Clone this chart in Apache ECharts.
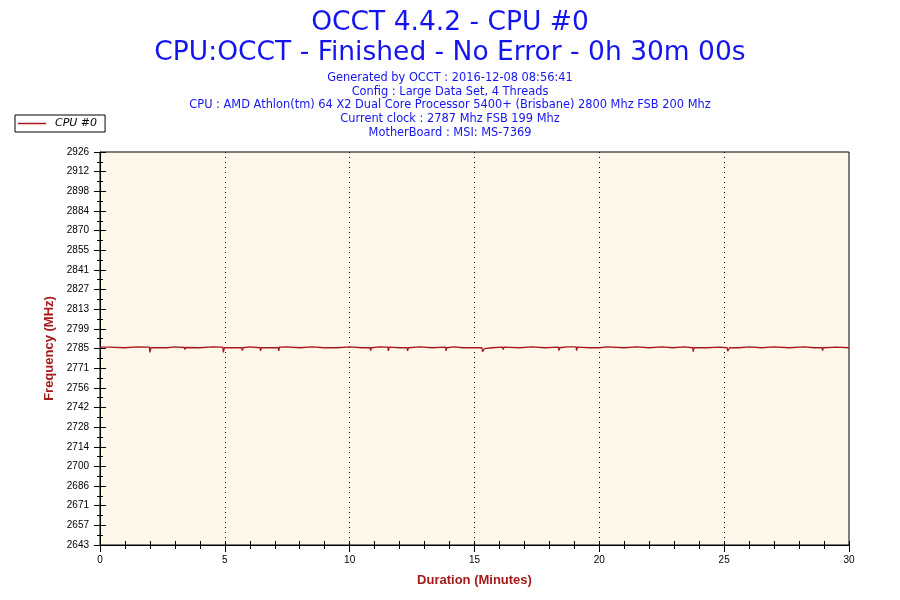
<!DOCTYPE html>
<html>
<head>
<meta charset="utf-8">
<title>OCCT 4.4.2 - CPU #0</title>
<script src="https://cdn.jsdelivr.net/npm/echarts@6/dist/echarts.min.js"></script>
<style>
  html, body { margin: 0; padding: 0; background: #fff; }
  #chart { width: 900px; height: 600px; }
</style>
</head>
<body>
<div id="chart"></div>
<script>
// sample times (minutes) and CPU #0 frequency (MHz)
const sampleMinutes = [
  0, 0.35, 0.37, 0.40, 1.0, 1.5, 1.98, 2.0, 2.04, 2.5,
  2.68, 2.7, 2.73, 3.0, 3.38, 3.4, 3.43, 4.0, 4.5, 4.92,
  4.94, 4.98, 5.5, 5.68, 5.7, 5.73, 6.0, 6.41, 6.43, 6.46,
  7.0, 7.14, 7.16, 7.19, 7.5, 8.0, 8.5, 8.98, 9.0, 9.03,
  9.5, 10.0, 10.5, 10.82, 10.84, 10.87, 11.2, 11.53, 11.55, 11.58,
  12.0, 12.30, 12.32, 12.35, 12.8, 13.3, 13.84, 13.86, 13.89, 14.2,
  14.53, 14.55, 14.58, 15.0, 15.30, 15.32, 15.36, 15.40, 15.44, 15.7,
  16.13, 16.15, 16.18, 16.8, 17.3, 17.8, 18.36, 18.38, 18.41, 18.7,
  19.07, 19.09, 19.12, 19.6, 20.0, 20.3, 21.0, 21.5, 22.0, 22.5,
  22.94, 22.96, 22.99, 23.4, 23.74, 23.76, 23.79, 24.3, 24.8, 25.12,
  25.14, 25.18, 25.22, 25.6, 26.0, 26.5, 27.0, 27.61, 27.63, 27.66,
  28.2, 28.6, 28.92, 28.94, 28.97, 29.5, 30
];
const cpu0Mhz = [
  2785.7, 2785.7, 2784.4, 2785.7, 2785.2, 2785.9, 2785.7, 2781.8, 2785.2, 2785.2,
  2785.2, 2783.8, 2785.2, 2785.9, 2785.4, 2783.9, 2785.4, 2785.2, 2785.9, 2785.7,
  2781.8, 2785.2, 2785.2, 2785.2, 2783.2, 2785.2, 2785.9, 2785.2, 2782.9, 2785.2,
  2785.2, 2785.2, 2782.9, 2785.7, 2785.9, 2785.2, 2785.9, 2785.2, 2784.0, 2785.2,
  2785.2, 2785.9, 2785.2, 2785.2, 2783.2, 2785.2, 2785.9, 2785.7, 2783.0, 2785.7,
  2785.2, 2785.2, 2783.0, 2785.2, 2785.9, 2785.2, 2785.7, 2783.0, 2785.2, 2785.9,
  2785.2, 2784.0, 2785.2, 2785.2, 2785.2, 2782.4, 2781.8, 2784.6, 2785.2, 2785.2,
  2785.7, 2783.9, 2785.7, 2785.2, 2785.9, 2785.2, 2785.7, 2783.2, 2785.2, 2785.9,
  2785.9, 2783.2, 2785.7, 2785.2, 2785.2, 2785.9, 2785.2, 2785.9, 2785.2, 2785.9,
  2785.2, 2784.0, 2785.2, 2785.9, 2785.2, 2782.4, 2785.2, 2785.2, 2785.7, 2785.2,
  2782.8, 2782.6, 2785.2, 2785.2, 2785.9, 2785.2, 2785.9, 2785.2, 2784.0, 2785.7,
  2785.9, 2785.2, 2785.2, 2783.2, 2785.2, 2785.7, 2785.2
];

// y axis tick labels as printed on the chart (bottom to top)
const yTickLabels = [
  '2643', '2657', '2671', '2686', '2700', '2714', '2728', '2742', '2756', '2771',
  '2785', '2799', '2813', '2827', '2841', '2855', '2870', '2884', '2898', '2912', '2926'
];
const yMin = 2643.17;
const yMax = 2926.17;
const xMax = 30;

const titleLines = ['OCCT 4.4.2 - CPU #0', 'CPU:OCCT - Finished - No Error - 0h 30m 00s'];
const infoLines = [
  'Generated by OCCT : 2016-12-08 08:56:41',
  'Config : Large Data Set, 4 Threads',
  'CPU : AMD Athlon(tm) 64 X2 Dual Core Processor 5400+ (Brisbane) 2800 Mhz FSB 200 Mhz',
  'Current clock : 2787 Mhz FSB 199 Mhz',
  'MotherBoard : MSI: MS-7369'
];

const chart = echarts.init(document.getElementById('chart'));

const nameColor = '#A51A1A';
const tickFont = { fontFamily: 'Liberation Sans', fontSize: 10, color: '#000' };

let option = {
  animation: false,
  backgroundColor: '#fff',
  title: {
    left: 'center',
    top: 3,
    text: titleLines.join('\n'),
    subtext: infoLines.join('\n'),
    itemGap: 3,
    textStyle: { fontFamily: 'DejaVu Sans', fontSize: 26.5, fontWeight: 'normal', color: '#1414F0', lineHeight: 30 },
    subtextStyle: { fontFamily: 'DejaVu Sans', fontSize: 11.4, color: '#1414F0', lineHeight: 13.8 }
  },
  legend: {
    left: 15,
    top: 115,
    padding: [3, 8, 3, 3],
    borderColor: '#000',
    borderWidth: 1,
    itemWidth: 28,
    itemHeight: 1.5,
    itemGap: 0,
    textStyle: { fontFamily: 'DejaVu Sans', fontSize: 11, fontStyle: 'italic', color: '#000', padding: [0, 0, 0, 4] },
    data: [{ name: 'CPU #0', icon: 'rect' }]
  },
  grid: {
    left: 100, right: 51, top: 152, bottom: 55,
    show: true,
    backgroundColor: '#FFF8EA',
    borderColor: '#000',
    borderWidth: 1
  },
  xAxis: [
    {
      type: 'value', min: 0, max: xMax, interval: 5, position: 'bottom',
      name: 'Duration (Minutes)', nameLocation: 'middle', nameGap: 29,
      nameTextStyle: { fontFamily: 'Liberation Sans', fontSize: 13, fontWeight: 'bold', color: nameColor },
      axisLine: { lineStyle: { color: '#000', width: 1 } },
      axisTick: { inside: false, length: 7, lineStyle: { color: '#000' } },
      minorTick: { show: true, splitNumber: 5, length: 4, lineStyle: { color: '#000' } },
      axisLabel: Object.assign({ margin: 10 }, tickFont),
      splitLine: { show: true, showMinLine: false, showMaxLine: false, lineStyle: { color: '#000', type: [1, 4], width: 1 } }
    },
    {
      type: 'value', min: 0, max: xMax, interval: 1, position: 'bottom',
      axisLine: { show: false },
      axisTick: { inside: true, length: 4, lineStyle: { color: '#000' } },
      axisLabel: { show: false },
      splitLine: { show: false }
    }
  ],
  yAxis: [
    {
      type: 'value', min: yMin, max: yMax, show: false,
      splitLine: { show: false }
    },
    {
      type: 'value', min: 0, max: yTickLabels.length - 1, interval: 1, position: 'left',
      name: 'Frequency (MHz)', nameLocation: 'middle', nameGap: 43,
      nameTextStyle: { fontFamily: 'Liberation Sans', fontSize: 13, fontWeight: 'bold', color: nameColor },
      axisLine: { show: true, lineStyle: { color: '#000', width: 1 } },
      axisTick: { inside: false, length: 6, lineStyle: { color: '#000' } },
      minorTick: { show: true, splitNumber: 2, length: 3, lineStyle: { color: '#000' } },
      axisLabel: Object.assign({ margin: 11, formatter: (v) => yTickLabels[Math.round(v)] }, tickFont),
      splitLine: { show: false }
    },
    {
      type: 'value', min: 0, max: yTickLabels.length - 1, interval: 1, position: 'left',
      axisLine: { show: false },
      axisTick: { inside: true, length: 6, lineStyle: { color: '#000' } },
      minorTick: { show: true, splitNumber: 2, length: 3, lineStyle: { color: '#000' } },
      axisLabel: { show: false },
      splitLine: { show: false }
    }
  ],
  series: [
    {
      name: 'CPU #0',
      type: 'line',
      xAxisIndex: 0,
      yAxisIndex: 0,
      symbol: 'none',
      showSymbol: false,
      lineStyle: { color: '#A81818', width: 1.3 },
      itemStyle: { color: '#A81818' },
      data: sampleMinutes.map((t, i) => [t, cpu0Mhz[i]])
    }
  ]
};

chart.setOption(option);
</script>
</body>
</html>
